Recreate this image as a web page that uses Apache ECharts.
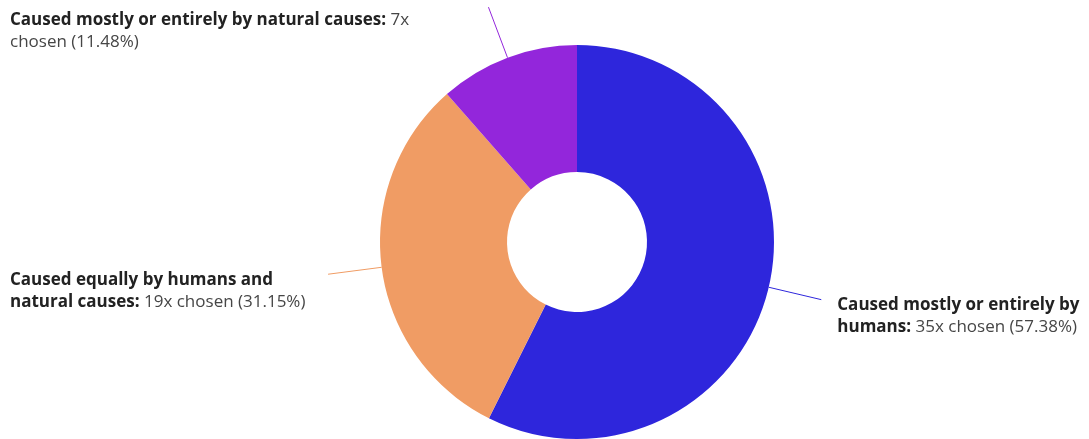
<!DOCTYPE html>
<html>
<head>
<meta charset="utf-8">
<script src="https://cdn.jsdelivr.net/npm/echarts@6/dist/echarts.min.js"></script>
<style>
html,body{margin:0;padding:0;background:#fff;}
#chart{width:1089px;height:439px;}
</style>
</head>
<body>
<div id="chart"></div>
<script>
// Data
var categories = [
  'Caused mostly or entirely by humans',
  'Caused equally by humans and natural causes',
  'Caused mostly or entirely by natural causes'
];
var counts = [35, 19, 7];
var colors = ['#2E26DC', '#F09C64', '#9326DB'];
var wrapWidths = [300, 330, 440];

var total = counts.reduce(function (a, b) { return a + b; }, 0);
var CENTER = [577, 242];
var FONT = '"Open Sans", sans-serif';

var chart = echarts.init(document.getElementById('chart'), null, { renderer: 'canvas' });
chart.setOption({
  animation: false,
  series: [{
    type: 'pie',
    center: CENTER,
    radius: [70, 197],
    startAngle: 90,
    clockwise: true,
    avoidLabelOverlap: false,
    data: categories.map(function (c, i) {
      return {
        name: c,
        value: counts[i],
        itemStyle: { color: colors[i] },
        label: { width: wrapWidths[i] }
      };
    }),
    label: {
      show: true,
      position: 'outside',
      overflow: 'break',
      fontFamily: FONT,
      fontSize: 17,
      lineHeight: 22,
      formatter: function (p) {
        var pct = (p.value / total * 100).toFixed(2);
        return '{b|' + p.name + ':}{v| ' + p.value + 'x chosen (' + pct + '%)}';
      },
      rich: {
        b: { fontFamily: FONT, fontSize: 17, lineHeight: 22, fontWeight: 'bold', color: '#222222', align: 'left' },
        v: { fontFamily: FONT, fontSize: 17, lineHeight: 22, color: '#464646', align: 'left' }
      }
    },
    labelLine: {
      show: true,
      length: 54,
      length2: 0,
      smooth: false,
      lineStyle: { width: 1 }
    },
    labelLayout: function (p) {
      var pts = p.labelLinePoints;
      var end = pts[pts.length - 1];
      var isLeft = end[0] < CENTER[0];
      return {
        x: isLeft ? 10 : end[0] + 16,
        y: Math.max(end[1] - 5, 9),
        align: 'left',
        verticalAlign: 'top',
        labelLinePoints: pts
      };
    }
  }]
});
</script>
</body>
</html>
